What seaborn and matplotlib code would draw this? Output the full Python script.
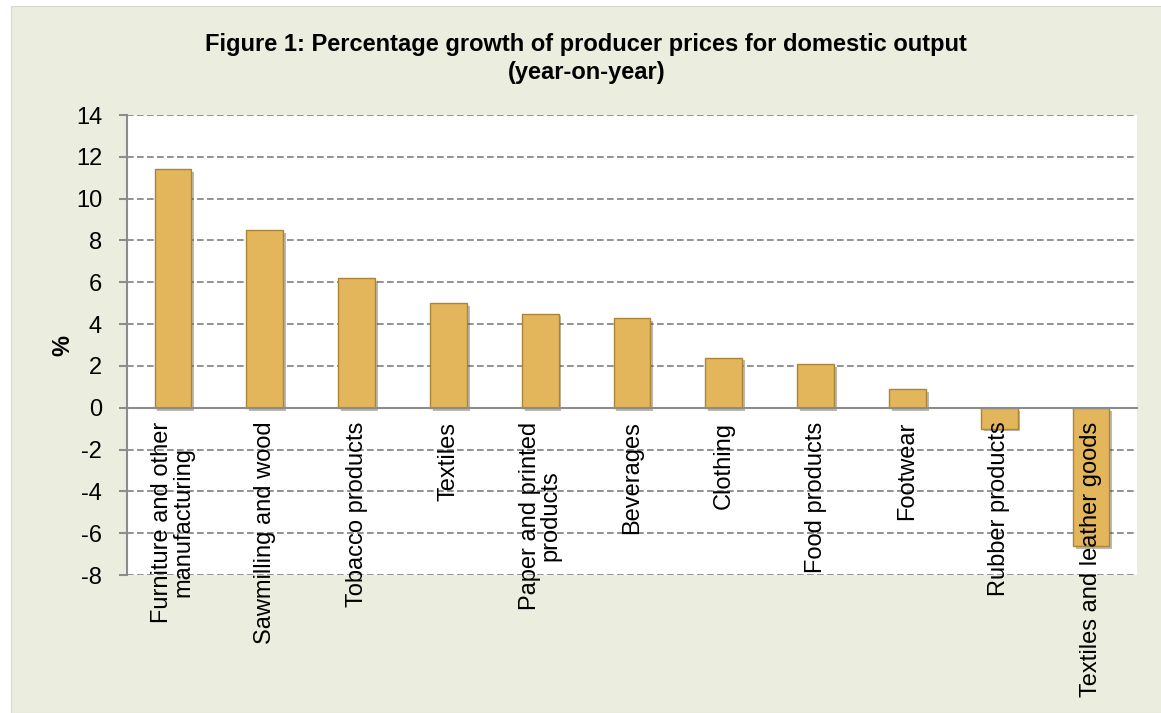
import matplotlib
matplotlib.use("Agg")
import matplotlib.pyplot as plt
import matplotlib.patheffects as pe
from matplotlib.patches import Rectangle
import seaborn as sns
import pandas as pd

categories = [
    "Furniture and other\nmanufacturing",
    "Sawmilling and wood",
    "Tobacco products",
    "Textiles",
    "Paper and printed\nproducts",
    "Beverages",
    "Clothing",
    "Food products",
    "Footwear",
    "Rubber products",
    "Textiles and leather goods",
]
growth = [11.4, 8.5, 6.2, 5.0, 4.5, 4.3, 2.4, 2.1, 0.9, -1.0, -6.6]
y_ticks = [14, 12, 10, 8, 6, 4, 2, 0, -2, -4, -6, -8]

df = pd.DataFrame({"category": categories, "growth": growth})

sns.set_style("white")
plt.rcParams["font.family"] = ["Liberation Sans", "DejaVu Sans"]
plt.rcParams["text.color"] = "black"
plt.rcParams["xtick.color"] = "black"
plt.rcParams["ytick.color"] = "black"
plt.rcParams["axes.labelcolor"] = "black"
plt.rcParams["axes.unicode_minus"] = False

fig = plt.figure(figsize=(11.61, 7.13), dpi=100)
fig.patch.set_facecolor("white")
# light panel behind the chart
fig.patches.append(Rectangle((11 / 1161, 0), 1, 1 - 6 / 713, transform=fig.transFigure,
                             facecolor="#EBEEDF", edgecolor="#D8DACB", lw=0.8, zorder=-5))

ax = fig.add_axes([127 / 1161, 1 - 575 / 713, 1010 / 1161, 460 / 713])
ax.set_zorder(1)
ax.set_facecolor("white")

sns.barplot(data=df, x="category", y="growth", color="#E3B65C", saturation=1, width=0.4,
            edgecolor="#A9853A", linewidth=1.0, ax=ax)
for bar in ax.patches:
    bar.set_zorder(2)
    bar.set_path_effects([pe.SimplePatchShadow(offset=(2, -2), alpha=0.35), pe.Normal()])

ax.set_ylim(-8, 14)
ax.set_xlim(-0.5, len(categories) - 0.5)
ax.set_yticks(y_ticks)
# axis (labels) above bars, dashed gridlines below them
ax.set_axisbelow(False)
for t in y_ticks:
    ax.axhline(t, linestyle=(0, (4, 2)), color="#808080", linewidth=1.2, zorder=0.5)

for s in ["top", "right"]:
    ax.spines[s].set_visible(False)
ax.spines["left"].set_color("#8C8C8C")
ax.spines["left"].set_linewidth(1.5)
ax.spines["bottom"].set_position(("data", 0))
ax.spines["bottom"].set_color("#8C8C8C")
ax.spines["bottom"].set_linewidth(1.5)

# category ticks sit between bars, labels at bar centres
ax.set_xticks([i + 0.5 for i in range(-1, len(categories))], minor=False)
ax.set_xticklabels([])
ax.set_xticks(range(len(categories)), minor=True)
ax.set_xticklabels(categories, minor=True, rotation=90, ha="center", va="top",
                   fontsize=17, linespacing=0.95)
ax.tick_params(axis="x", which="major", direction="out", length=7, width=1.5, color="#8C8C8C")
ax.tick_params(axis="x", which="minor", length=0, pad=10)
ax.tick_params(axis="y", direction="out", length=6, width=1.5, color="#8C8C8C",
               labelsize=17, pad=12, left=True)

ax.set_xlabel("")
ax.set_ylabel("%", fontsize=17, fontweight="bold", labelpad=1)

fig.text(0.505, 1 - 44 / 713, "Figure 1: Percentage growth of producer prices for domestic output",
         ha="center", va="center", fontsize=17, fontweight="bold")
fig.text(0.505, 1 - 72 / 713, "(year-on-year)", ha="center", va="center",
         fontsize=17, fontweight="bold")

fig.savefig("out.png", dpi=100, facecolor=fig.get_facecolor())
